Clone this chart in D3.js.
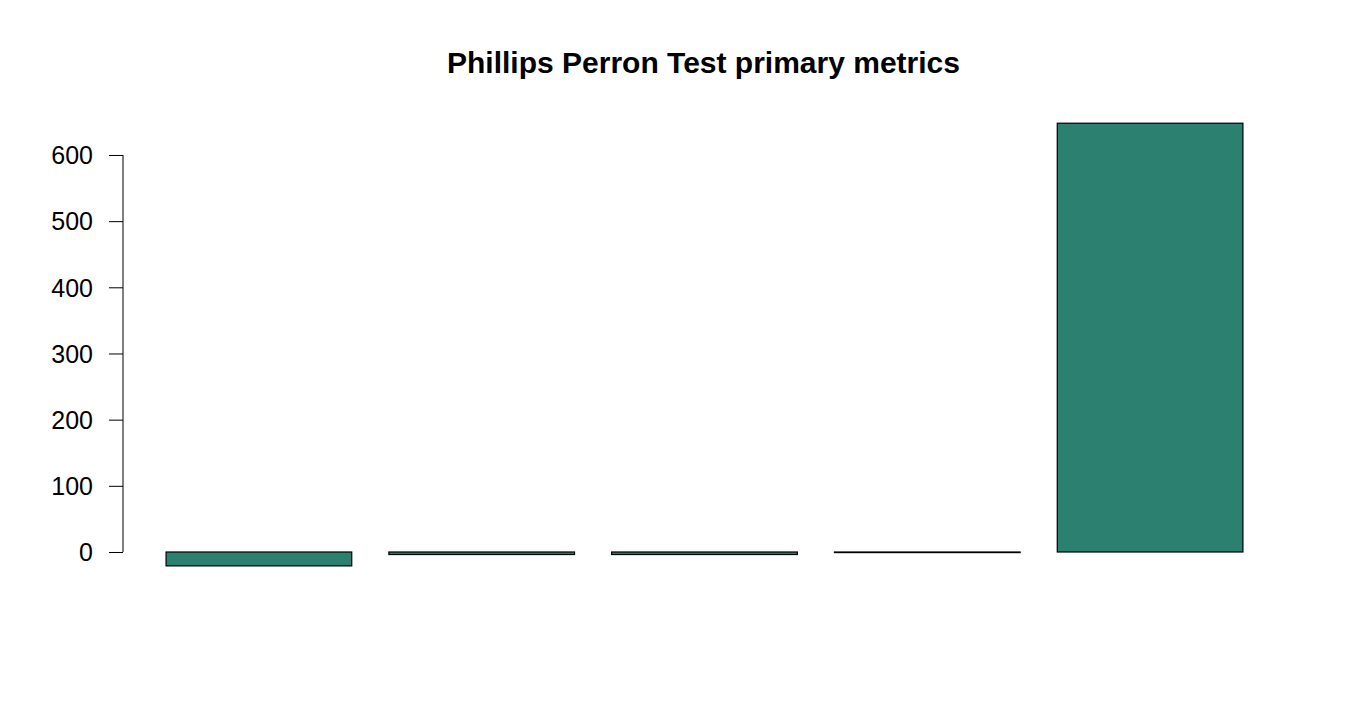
<!DOCTYPE html>
<html>
<head>
<meta charset="utf-8">
<script src="https://cdn.jsdelivr.net/npm/d3@7"></script>
<style>
  html, body { margin: 0; padding: 0; background: #fff; }
  svg { display: block; font-family: "Liberation Sans", Arial, sans-serif; }
</style>
</head>
<body>
<svg id="chart" width="1350" height="720"></svg>
<script>
const categories = ["m1", "m2", "m3", "m4", "m5"];
const values = [-21, -3.8, -3.8, -0.9, 648];
const yTicks = [0, 100, 200, 300, 400, 500, 600];
const title = "Phillips Perron Test primary metrics";

const svg = d3.select("#chart");
const plot = { left: 123, right: 1286, top: 105.5, bottom: 583.6 };

// R barplot layout: width 1, space 0.2
const space = 0.2;
const lefts = categories.map((c, i) => space + i * (1 + space));
const xmin = lefts[0], xmax = lefts[lefts.length - 1] + 1;
const xext = (xmax - xmin) * 0.04;
const x = d3.scaleLinear().domain([xmin - xext, xmax + xext]).range([plot.left, plot.right]);

const ylo = Math.min(0, d3.min(values)), yhi = Math.max(0, d3.max(values));
const yext = (yhi - ylo) * 0.04;
const y = d3.scaleLinear().domain([ylo - yext, yhi + yext]).range([plot.bottom, plot.top]);

svg.selectAll("rect.bar")
  .data(values)
  .join("rect")
  .attr("class", "bar")
  .attr("x", (d, i) => x(lefts[i]))
  .attr("width", (d, i) => x(lefts[i] + 1) - x(lefts[i]))
  .attr("y", d => y(Math.max(0, d)))
  .attr("height", d => Math.abs(y(d) - y(0)))
  .attr("fill", "#2c806f")
  .attr("stroke", "#000")
  .attr("stroke-width", 1.2);

const axis = d3.axisLeft(y).tickValues(yTicks).tickSize(14).tickPadding(16).tickSizeOuter(0);
const g = svg.append("g").attr("transform", `translate(${plot.left},0)`).call(axis);
g.select(".domain").attr("d", `M0,${y(yTicks[0])}V${y(yTicks[yTicks.length - 1])}`).attr("stroke", "#000");
g.selectAll(".tick line").attr("stroke", "#000");
g.selectAll(".tick text")
  .attr("font-size", 25)
  .attr("font-family", "Liberation Sans, Arial, sans-serif")
  .attr("fill", "#000")
  .attr("dy", "0.35em");

svg.append("text")
  .attr("x", 703.5)
  .attr("y", 73)
  .attr("text-anchor", "middle")
  .attr("font-size", 30)
  .attr("font-weight", "bold")
  .attr("fill", "#000")
  .text(title);
</script>
</body>
</html>
